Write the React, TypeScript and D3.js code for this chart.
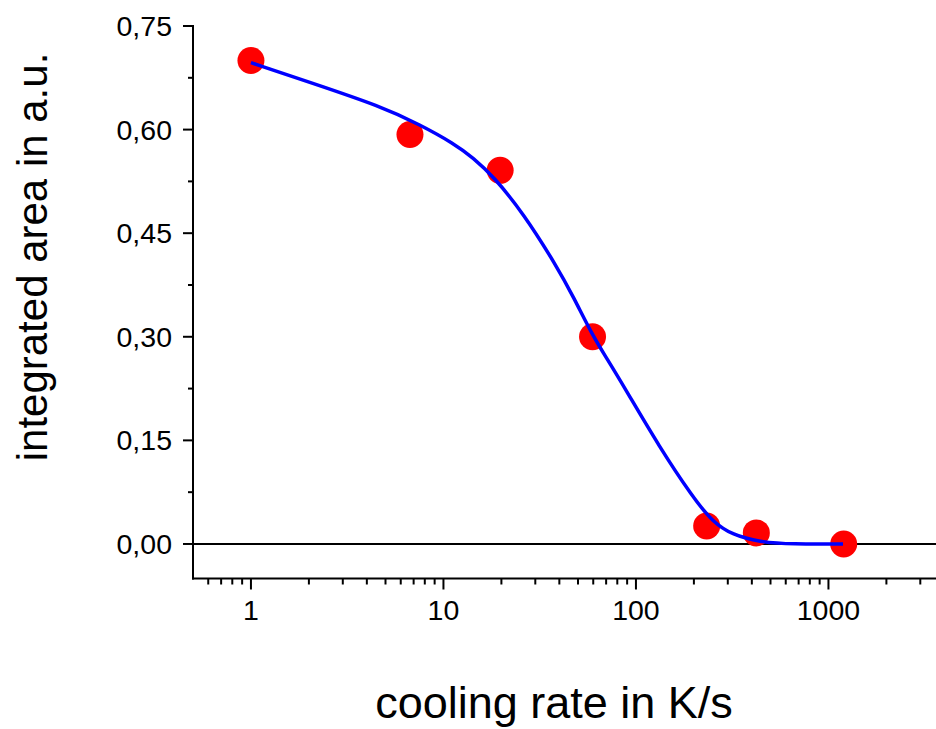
import React from "react";
import * as d3 from "d3";

const pointX = [1, 6.7, 19.7, 59.5, 233, 422, 1200];
const pointY = [0.70, 0.593, 0.541, 0.300, 0.026, 0.016, 0.0];

const fitX = [1, 2.09, 4.69, 7.56, 11.3, 14.3, 18.2, 26, 38.8, 47.3, 60, 70.5, 88.7, 132, 197, 250, 318, 437, 650, 1190];
const fitY = [0.697, 0.667, 0.634, 0.607, 0.580, 0.559, 0.532, 0.479, 0.402, 0.358, 0.300, 0.269, 0.223, 0.141, 0.068, 0.032, 0.013, 0.003, -0.0005, 0.0];

const yMajor = [0, 0.15, 0.3, 0.45, 0.6, 0.75];
const yMajorLabels = ["0,00", "0,15", "0,30", "0,45", "0,60", "0,75"];
const yMinor = [0.075, 0.225, 0.375, 0.525, 0.675];
const xMajor = [1, 10, 100, 1000];
const xMajorLabels = ["1", "10", "100", "1000"];

const W = 936;
const H = 729;
const FONT = "'Liberation Sans', Arial, Helvetica, sans-serif";

export default function App() {
  const x = d3.scaleLog().domain([0.5, 5000]).range([193, 963]);
  const y = d3.scaleLinear().domain([-0.05, 0.75]).range([578.5, 26]);

  const xMinor: number[] = [];
  [0.1, 1, 10, 100, 1000].forEach((dec) => {
    for (let k = 2; k <= 9; k++) {
      const v = dec * k;
      if (v > 0.5 && v < 5000 && !xMajor.includes(v)) xMinor.push(v);
    }
  });

  const line = d3
    .line<number>()
    .x((_, i) => x(fitX[i]))
    .y((d) => y(d))
    .curve(d3.curveBasis);

  const x0 = x.range()[0];
  const yBottom = y.range()[0];
  const yTop = y.range()[1];

  return (
    <svg
      width={W}
      height={H}
      style={{ position: "absolute", left: 0, top: 0, background: "#fff" }}
      fontFamily={FONT}
    >
      <rect x={0} y={0} width={W} height={H} fill="#fff" />
      {/* zero line */}
      <line x1={x0} x2={W} y1={y(0)} y2={y(0)} stroke="#000" strokeWidth={2} />
      {/* y axis */}
      <line x1={x0} x2={x0} y1={yTop - 1} y2={yBottom + 1} stroke="#000" strokeWidth={2} />
      {yMajor.map((v, i) => (
        <g key={"ym" + i}>
          <line x1={x0 - 10} x2={x0} y1={y(v)} y2={y(v)} stroke="#000" strokeWidth={2} />
          <text
            x={x0 - 21}
            y={y(v)}
            textAnchor="end"
            dominantBaseline="central"
            fontSize={28.5}
            fill="#000"
          >
            {yMajorLabels[i]}
          </text>
        </g>
      ))}
      {yMinor.map((v, i) => (
        <line key={"yn" + i} x1={x0 - 5} x2={x0} y1={y(v)} y2={y(v)} stroke="#000" strokeWidth={2} />
      ))}
      {/* x axis */}
      <line x1={x0 - 1} x2={W} y1={yBottom} y2={yBottom} stroke="#000" strokeWidth={2} />
      {xMajor.map((v, i) => (
        <g key={"xm" + i}>
          <line x1={x(v)} x2={x(v)} y1={yBottom} y2={yBottom + 11} stroke="#000" strokeWidth={2} />
          <text x={x(v)} y={620} textAnchor="middle" fontSize={28.5} fill="#000">
            {xMajorLabels[i]}
          </text>
        </g>
      ))}
      {xMinor.map((v, i) => (
        <line key={"xn" + i} x1={x(v)} x2={x(v)} y1={yBottom} y2={yBottom + 6} stroke="#000" strokeWidth={2} />
      ))}
      {/* points */}
      {pointX.map((v, i) => (
        <circle key={"p" + i} cx={x(v)} cy={y(pointY[i])} r={13.5} fill="#ff0000" />
      ))}
      {/* fit curve */}
      <path d={line(fitY) || ""} fill="none" stroke="#0000ff" strokeWidth={3.5} />
      {/* titles */}
      <text x={554} y={718} textAnchor="middle" fontSize={45} fill="#000">
        cooling rate in K/s
      </text>
      <text
        transform={`translate(47, 257) rotate(-90)`}
        textAnchor="middle"
        fontSize={42}
        fill="#000"
      >
        integrated area in a.u.
      </text>
    </svg>
  );
}
